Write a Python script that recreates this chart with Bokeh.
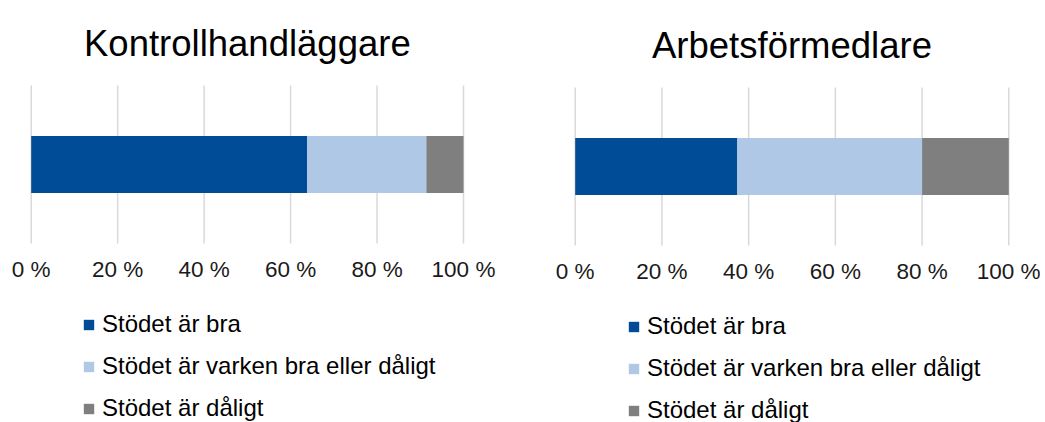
from bokeh.plotting import figure
from bokeh.models import (ColumnDataSource, Range1d, FixedTicker, PrintfTickFormatter,
                          Legend, LegendItem, LinearAxis, Label)
from bokeh.layouts import row
from bokeh.embed import file_html
from bokeh.resources import INLINE

titles = ["Kontrollhandläggare", "Arbetsförmedlare"]
categories = ["Stödet är bra", "Stödet är varken bra eller dåligt", "Stödet är dåligt"]
kontroll_values = [63.8, 27.6, 8.6]
arbets_values = [37.4, 42.6, 20.0]
tick_values = [0, 20, 40, 60, 80, 100]
colors = ["#004C97", "#AFC8E6", "#7F7F7F"]
keys = ["bra", "varken", "daligt"]

FONT = "Liberation Sans"
H = 422


def make_chart(title, values, width, x0_px, x100_px, grid_bottom_px,
               legend_x, legend_y, title_base):
    # x: 0..100 % spans x0_px..x100_px inside a frame that fills the whole figure
    ppu = (x100_px - x0_px) / 100.0
    x_start = -x0_px / ppu
    x_end = (width - x0_px) / ppu
    # y data units: 0..1 is the gridded band (158 px tall)
    y_top = grid_bottom_px / 158.0
    y_bot = (grid_bottom_px - H) / 158.0
    p = figure(width=width, height=H, output_backend="svg", toolbar_location=None,
               x_range=Range1d(x_start, x_end), y_range=Range1d(y_bot, y_top),
               x_axis_type=None, y_axis_type=None,
               min_border_left=0, min_border_right=0, min_border_top=0,
               min_border_bottom=0, outline_line_color=None,
               background_fill_color="white", border_fill_color="white")
    p.xgrid.grid_line_color = None
    p.ygrid.grid_line_color = None

    # vertical grid lines over the band
    p.segment(x0=tick_values, y0=[0] * len(tick_values), x1=tick_values,
              y1=[1] * len(tick_values), line_color="#d9d9d9", line_width=1.5)

    src = ColumnDataSource({"y": [0.5], **{k: [v] for k, v in zip(keys, values)}})
    rs = p.hbar_stack(keys, y="y", height=0.36, color=colors, line_color=None, source=src)

    ax = LinearAxis(fixed_location=0, ticker=FixedTicker(ticks=tick_values),
                    formatter=PrintfTickFormatter(format="%d %%"))
    ax.axis_line_color = None
    ax.major_tick_line_color = None
    ax.minor_tick_line_color = None
    ax.major_tick_in = 0
    ax.major_tick_out = 0
    ax.major_label_text_font = FONT
    ax.major_label_text_font_size = "22.5px"
    ax.major_label_text_color = "#1a1a1a"
    ax.major_label_standoff = 13
    p.add_layout(ax, "below")

    mid = (tick_values[0] + tick_values[-1]) / 2
    p.add_layout(Label(x=mid, y=H - title_base, y_units="screen", text=title,
                       text_font=FONT, text_font_size="36.5px", text_color="#000000",
                       text_align="center", text_baseline="alphabetic"))

    items = [LegendItem(label=c, renderers=[r]) for c, r in zip(categories, rs)]
    legend = Legend(items=items, location=(legend_x, legend_y), orientation="vertical",
                    glyph_width=13, glyph_height=13, label_height=27, spacing=14,
                    label_standoff=7, padding=0, margin=0,
                    label_text_font=FONT, label_text_font_size="24px",
                    label_text_color="#000000",
                    border_line_color=None, background_fill_alpha=0)
    p.add_layout(legend, "center")
    return p


p1 = make_chart(titles[0], kontroll_values, 530, 30.7, 463.0, 243, 82, 0, 43)
p2 = make_chart(titles[1], arbets_values, 510, 44.7, 478.3, 245, 97, -2, 45)
layout = row(p1, p2)

open("out.html", "w").write(file_html(layout, INLINE))
